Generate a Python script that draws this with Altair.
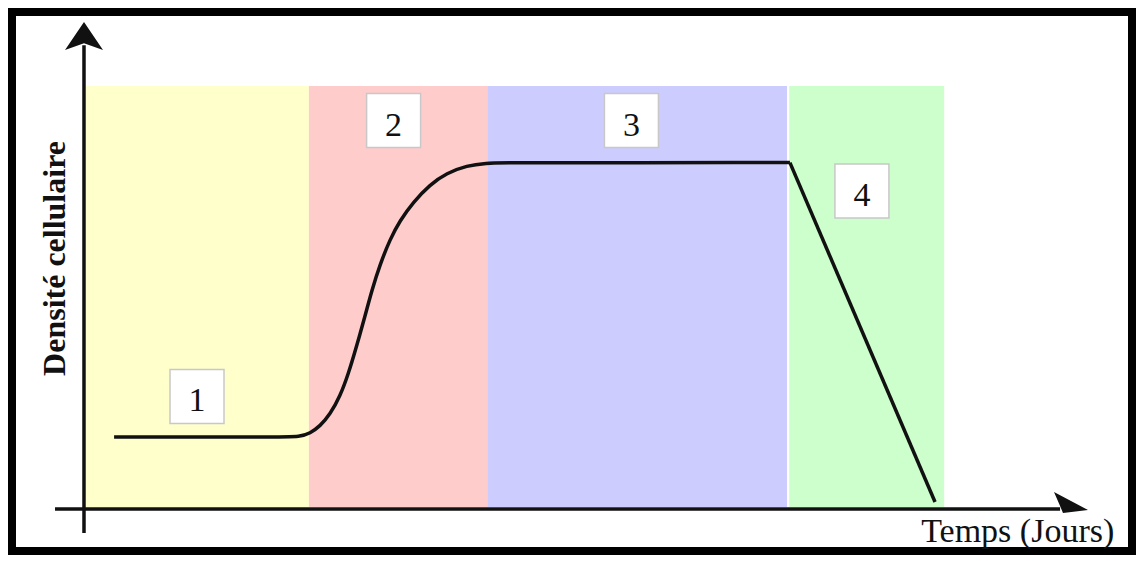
import altair as alt
import pandas as pd

# ---- data (time in days, cell density in arbitrary units) ----
phase_names = ["1", "2", "3", "4"]
phase_start = [0.0, 10.0, 18.0, 31.55]
phase_end = [10.0, 18.0, 31.45, 38.5]
phase_top = [100, 100, 100, 100]
phase_colors = ["#FFFFCC", "#FFCCCC", "#CCCCFF", "#CCFFCC"]

growth_t = [1.26, 8.70, 9.60, 10.05, 10.50, 10.95, 11.40, 11.77, 12.14, 12.52,
            12.82, 13.19, 13.64, 14.08, 14.68, 15.43, 16.18, 17.08, 18.0, 18.6,
            31.0, 31.58]
growth_d = [16.6, 16.6, 16.7, 17.5, 19.2, 22.0, 26.3, 31.6, 38.2, 45.4,
            51.4, 57.6, 63.6, 68.0, 72.4, 76.6, 79.3, 81.1, 81.7, 81.8,
            81.8, 81.8]
decline_t = [31.58, 38.09]
decline_d = [81.8, 1.2]

label_t = [4.98, 13.80, 24.47, 34.81]
label_d = [26.25, 91.8, 91.8, 75.06]

# axes (drawn as lines with arrow heads)
yaxis_t = [-0.09]
yaxis_d0 = [-6.18]
yaxis_d1 = [109.7]
xaxis_d = [-0.45]
xaxis_t0 = [-1.39]
xaxis_t1 = [43.7]
yarrow_t, yarrow_d = [-0.09], [110.7]
xarrow_t, xarrow_d = [44.19], [-0.45]

xtitle_text = "Temps (Jours)"
ytitle_text = "Densité cellulaire"
xtitle_t, xtitle_d = [41.80], [-8.31]
ytitle_t, ytitle_d = [-0.942], [59.03]

# ---- scales ----
XS = alt.Scale(domain=[-3.4993, 47.106], nice=False, zero=False)
YS = alt.Scale(domain=[-11.401, 118.527], nice=False, zero=False)
FONT = "Liberation Serif"
INK = "#111111"


def X(f="t"):
    return alt.X(f"{f}:Q", scale=XS, axis=None)


def Y(f="d"):
    return alt.Y(f"{f}:Q", scale=YS, axis=None)


bands_df = pd.DataFrame({"name": phase_names, "t0": phase_start, "t1": phase_end,
                         "top": phase_top, "color": phase_colors})
bands_df["bottom"] = 0
bands = alt.Chart(bands_df).mark_rect().encode(
    x=X("t0"), x2="t1:Q", y=Y("bottom"), y2="top:Q",
    color=alt.Color("color:N", scale=None),
)

yaxis = alt.Chart(pd.DataFrame({"t": yaxis_t, "d0": yaxis_d0, "d1": yaxis_d1})).mark_rule(
    color=INK, strokeWidth=3.5).encode(x=X("t"), y=Y("d0"), y2="d1:Q")
xaxis = alt.Chart(pd.DataFrame({"d": xaxis_d, "t0": xaxis_t0, "t1": xaxis_t1})).mark_rule(
    color=INK, strokeWidth=3.5).encode(y=Y("d"), x=X("t0"), x2="t1:Q")

yarrow = alt.Chart(pd.DataFrame({"t": yarrow_t, "d": yarrow_d})).mark_point(
    shape="M0,-1 L1,0.47 L0,0.12 L-1,0.47 Z", size=1444, filled=True,
    color=INK, opacity=1).encode(x=X(), y=Y())
xarrow = alt.Chart(pd.DataFrame({"t": xarrow_t, "d": xarrow_d})).mark_point(
    shape="M1,0.06 L-1,-1 L-0.7,-0.3 L-0.47,0.24 Z", size=1156, filled=True,
    color=INK, opacity=1).encode(x=X(), y=Y())

growth = alt.Chart(pd.DataFrame({"t": growth_t, "d": growth_d})).mark_line(
    interpolate="basis", color=INK, strokeWidth=3.5).encode(x=X(), y=Y())
decline = alt.Chart(pd.DataFrame({"t": decline_t, "d": decline_d})).mark_line(
    color=INK, strokeWidth=3.5).encode(x=X(), y=Y())

labels_df = pd.DataFrame({"t": label_t, "d": label_d, "name": phase_names})
boxes = alt.Chart(labels_df).mark_point(
    shape="square", size=2916, filled=True, fill="white", stroke="#c8c8c8",
    strokeWidth=1.5, opacity=1).encode(x=X(), y=Y())
box_text = alt.Chart(labels_df).mark_text(
    font=FONT, fontSize=34, color=INK, baseline="alphabetic", dy=15).encode(
    x=X(), y=Y(), text="name:N")

xtitle = alt.Chart(pd.DataFrame({"t": xtitle_t, "d": xtitle_d})).mark_text(
    text=xtitle_text, font=FONT, fontSize=34, color=INK, align="center",
    baseline="alphabetic").encode(x=X(), y=Y())
ytitle = alt.Chart(pd.DataFrame({"t": ytitle_t, "d": ytitle_d})).mark_text(
    text=ytitle_text, font=FONT, fontSize=32, fontWeight="bold", color=INK,
    align="center", baseline="alphabetic", angle=270).encode(x=X(), y=Y())

chart = alt.layer(
    bands, yaxis, xaxis, growth, decline, boxes, box_text, xtitle, ytitle, yarrow, xarrow
).properties(
    width=1128, height=547, padding=0,
    autosize=alt.AutoSizeParams(type="none"),
    background="white",
).configure_view(stroke="black", strokeWidth=16)

chart.save("out.html", embed_options={"renderer": "svg", "actions": False})
